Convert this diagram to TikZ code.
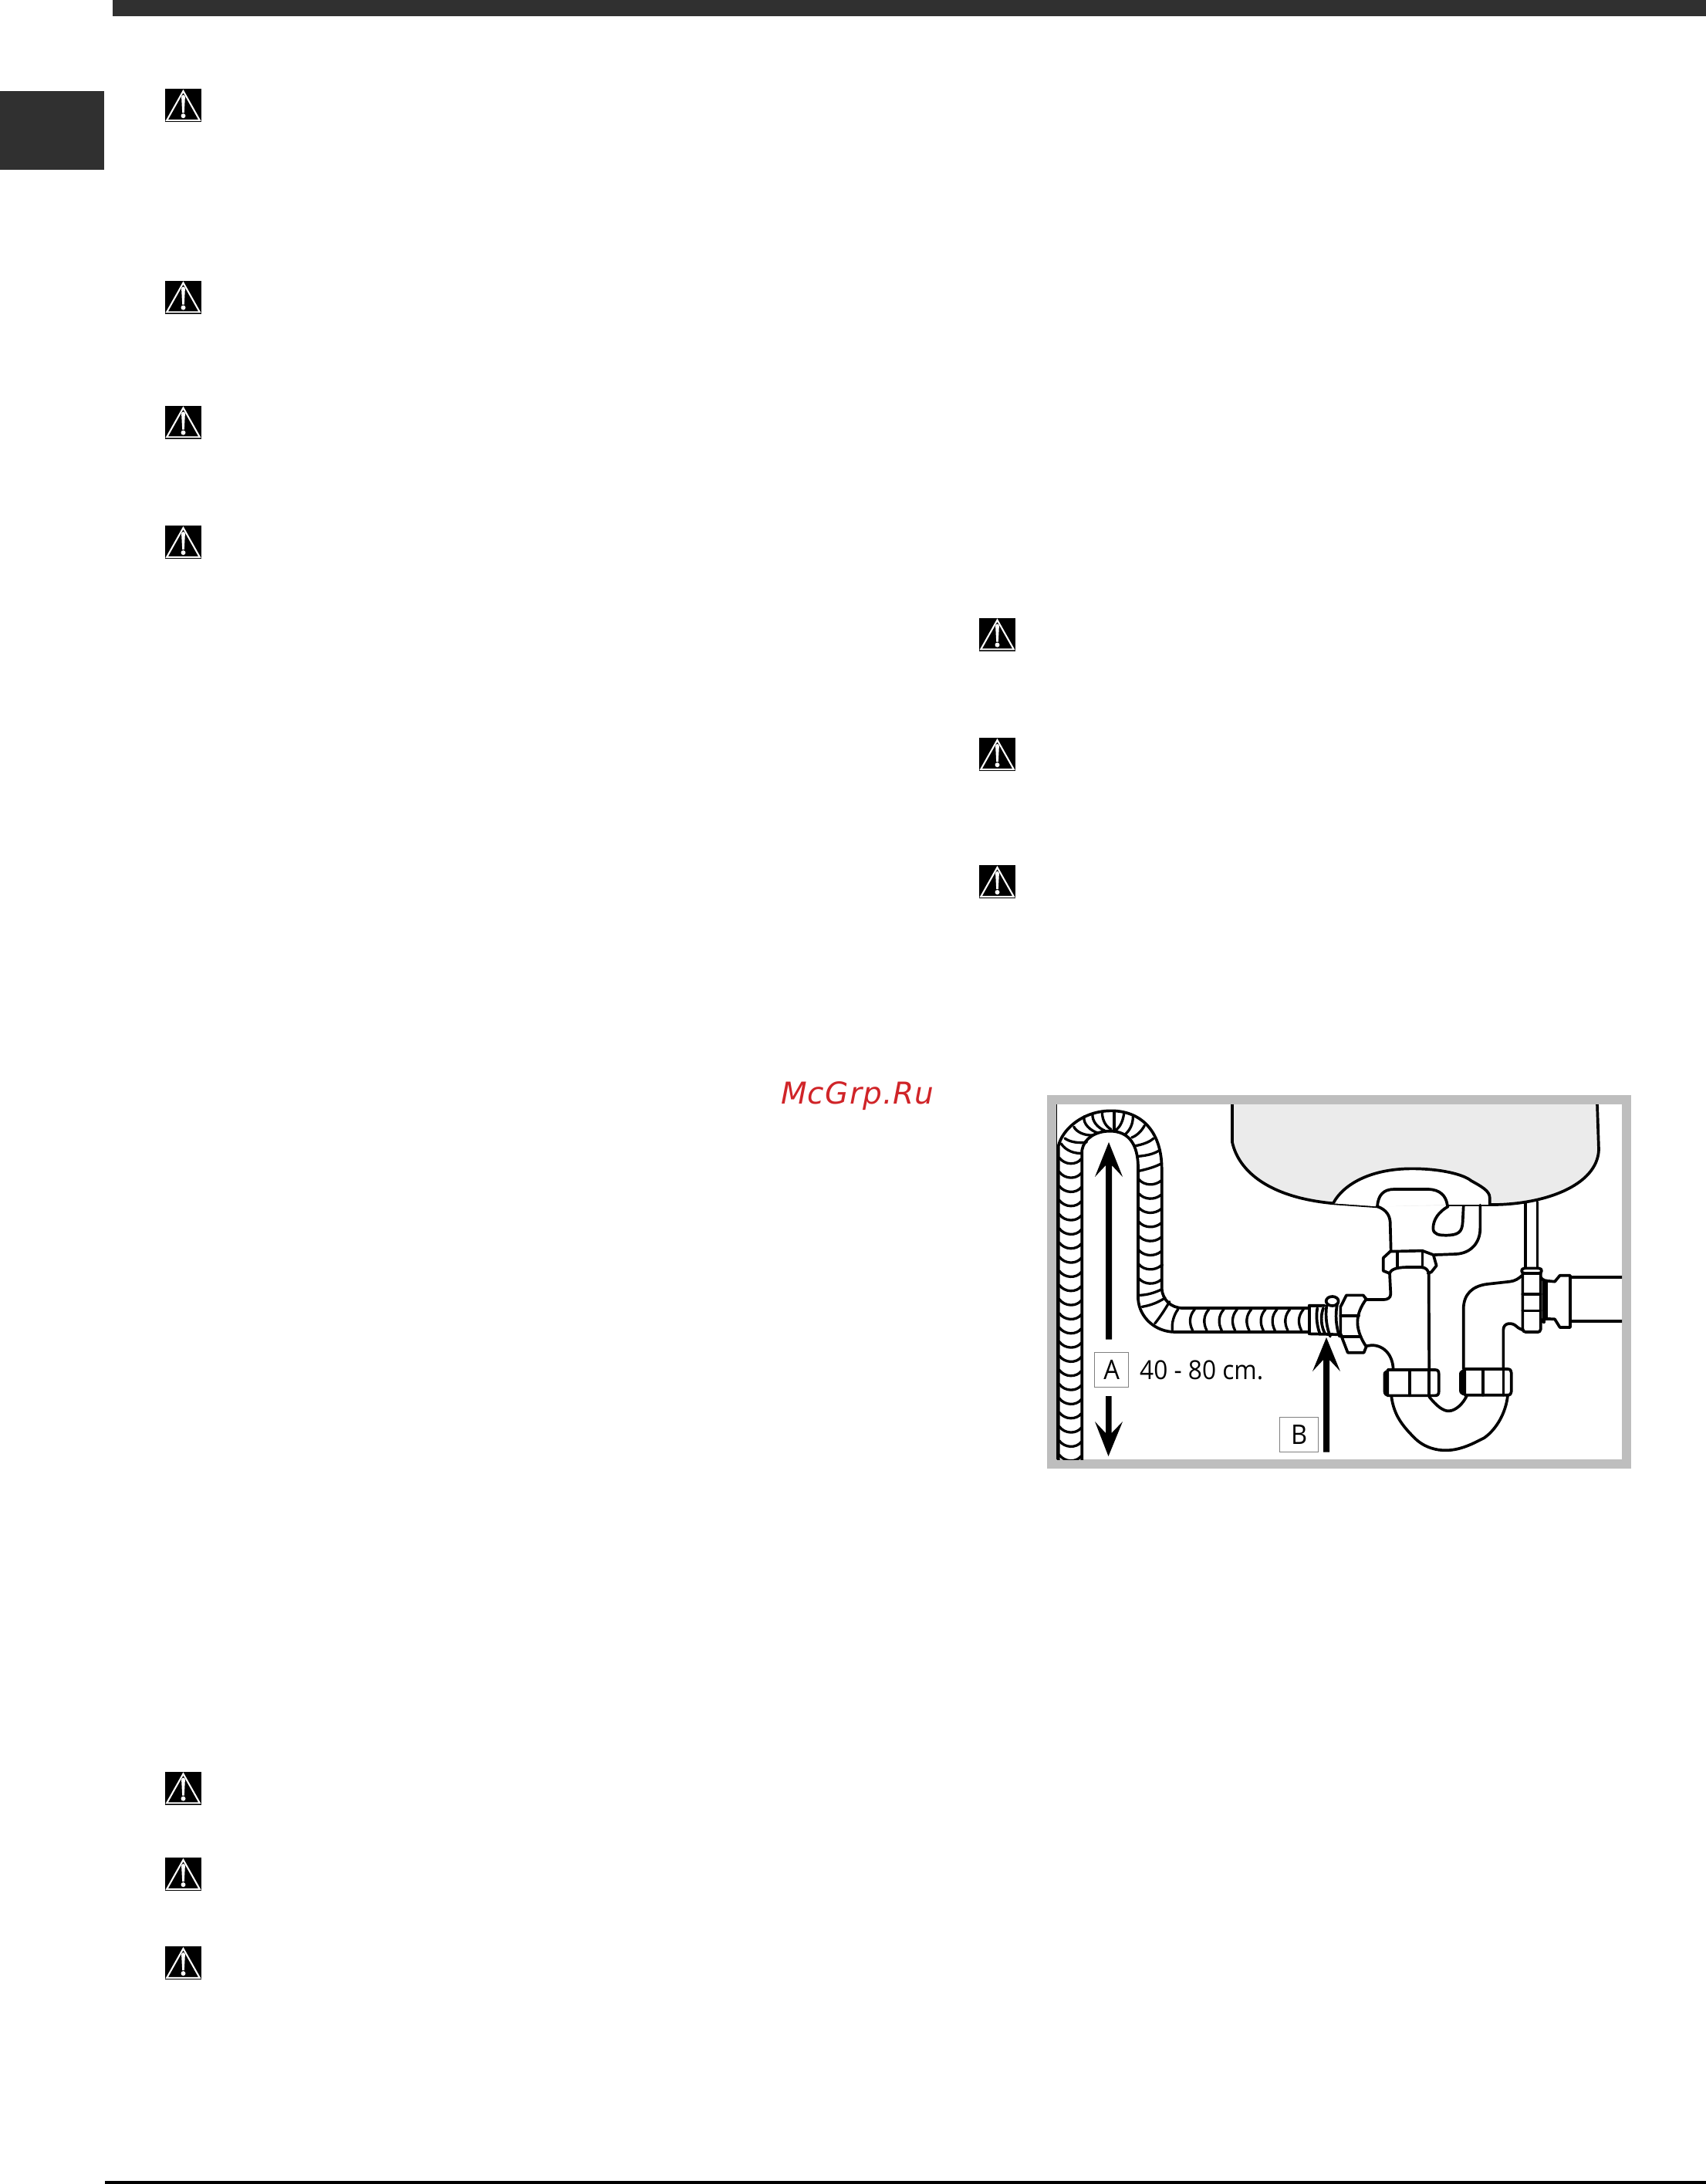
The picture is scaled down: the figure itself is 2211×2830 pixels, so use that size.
\documentclass[tikz,border=0pt]{standalone}
\usepackage{fontspec}
\setmainfont{Open Sans}
\newfontfamily\wmfont[LetterSpace=3]{DejaVu Sans}
\newfontfamily\dimfont[FakeStretch=0.93]{Open Sans}
\definecolor{band}{HTML}{303030}
\definecolor{frameg}{HTML}{BEBEBE}
\definecolor{sinkg}{HTML}{EBEBEB}
\definecolor{labelg}{HTML}{808080}
\definecolor{wm}{HTML}{D02428}
\tikzset{
  pix/.style={shift={(#1)},x=0.33333pt,y=-0.33333pt},
  ln/.style={draw=black,line width=3.7pt,line join=round,line cap=round},
  rib/.style={draw=black,line width=3.3pt,line cap=round},
  labelbox/.style={draw=labelg,line width=1.4pt,fill=white,inner sep=0pt,anchor=north west,font=\dimfont\fontsize{35}{35}\selectfont},
  warn/.pic={
    \fill[black] (-23.5,-21.5) rectangle (23.5,21.5);
    \draw[white,line width=2.1pt,line join=miter] (0,-18.5) -- (21.3,19.3) -- (-21.3,19.3) -- cycle;
    \fill[white] (-2.4,-11) -- (2.4,-11) -- (1.3,9.5) -- (-1.3,9.5) -- cycle;
    \fill[white] (0,-11) circle (2.4);
    \fill[white] (0,13.6) circle (3);
  }
}
\begin{document}
\begin{tikzpicture}[x=1pt,y=-1pt]
\useasboundingbox (0,0) rectangle (2211,2830);
\fill[white] (0,0) rectangle (2211,2830);
\fill[band] (146,0) rectangle (2211,21);
\fill[band] (0,118) rectangle (135,220);
\fill[black] (136,2826) rectangle (2211,2830);
% warning icons
\foreach \cx/\cy in {237.5/136.5,237.5/385,237.5/547,237.5/702.5,237.5/2317,237.5/2428.5,237.5/2543.5,1292.5/822,1292.5/977.5,1292.5/1142.5}
  \pic at (\cx,\cy) {warn};
% watermark
\node[anchor=base west,inner sep=0pt,text=wm,font=\wmfont\itshape\fontsize{39}{39}\selectfont] (mark) at (1012,1430) {McGrp.Ru};
% frame
\fill[frameg] (1357,1419) rectangle (2114,1903);
\fill[white] (1369,1431) rectangle (2102,1891);
\begin{scope}
\clip (1369,1431) rectangle (2102,1891);
\draw[black,line width=1pt] (1369.5,1431) -- (1369.5,1891);
% sink
\begin{scope}[pix={1700,1480}]
\path[fill=sinkg] (-309,-150) -- (-309,0) .. controls (-285,110) and (-170,215) .. (85,238) -- (255,250) -- (692,243)
 .. controls (900,245) and (1110,170) .. (1116,30) -- (1110,-150) -- cycle;
\draw[ln] (-309,-150) -- (-309,0) .. controls (-285,110) and (-170,215) .. (85,238) -- (255,250);
\draw[ln] (530,243) -- (692,243) .. controls (900,245) and (1110,170) .. (1116,30) -- (1110,-150);
% strainer arch
\path[fill=white] (85,238) .. controls (120,170) and (220,103) .. (390,103) .. controls (500,103) and (590,125) .. (620,150) .. controls (660,172) and (692,190) .. (692,215) -- (692,243) -- (530,243) -- (255,250) -- cycle;
\draw[ln] (85,235) .. controls (120,170) and (220,103) .. (390,103) .. controls (500,103) and (590,125) .. (620,150) .. controls (660,172) and (692,190) .. (692,215) -- (692,243);
% upper fixture
\draw[ln] (255,250) .. controls (258,205) and (280,183) .. (320,183) -- (450,183) .. controls (500,183) and (522,210) .. (527,243) -- (530,250) .. controls (495,270) and (472,300) .. (472,335) .. controls (472,360) and (500,362) .. (520,362) .. controls (570,362) and (585,350) .. (587,310) -- (590,250);
\draw[ln] (255,250) .. controls (290,262) and (303,285) .. (305,310) -- (308,422);
\draw[ln] (655,245) -- (655,335) .. controls (655,390) and (620,432) .. (560,435) -- (478,438);
% nut
\draw[ln] (278,450) -- (305,425) -- (430,422) -- (473,438) -- (485,480) -- (465,505) -- (452,510);
\draw[ln] (278,450) -- (278,500) -- (303,510) .. controls (310,490) and (340,487) .. (370,486) -- (425,486) .. controls (445,487) and (452,498) .. (455,510);
\draw[ln] (333,425) -- (333,487) (430,425) -- (430,487);
% T body
\draw[ln] (303,510) -- (307,590) .. controls (307,605) and (295,612) .. (280,612) -- (212,612);
\draw[ln] (455,510) -- (457,990);
\draw[ln] (215,792) .. controls (260,780) and (315,810) .. (317,885);
% hex nut
\draw[ln,fill=white] (135,595) -- (200,595) -- (212,610) .. controls (190,640) and (178,670) .. (178,700) .. controls (178,735) and (195,770) .. (212,795) -- (203,818) -- (140,818) -- (112,745) -- (112,640) -- cycle;
\draw[ln] (112,675) -- (183,675) (120,755) -- (190,755);
% clamp
\draw[ln] (-10,635) -- (50,635) (-10,745) -- (115,748);
\draw[ln] (22,645) .. controls (15,680) and (22,720) .. (32,745);
\draw[ln] (45,645) .. controls (32,680) and (38,720) .. (52,745);
\draw[ln] (58,635) .. controls (52,680) and (58,720) .. (72,755);
\draw[ln] (100,625) .. controls (90,670) and (95,720) .. (108,755);
\draw[ln,fill=white] (80,618) ellipse (24 and 18);
% slip nuts
\fill[black] (278,900) .. controls (278,890) and (290,885) .. (302,885) -- (302,990) .. controls (285,990) and (278,980) .. (278,970) -- cycle;
\draw[ln,fill=white] (295,885) -- (480,885) .. controls (490,885) and (494,890) .. (494,900) -- (494,970) .. controls (494,980) and (490,985) .. (480,985) -- (295,985) -- cycle;
\draw[ln] (380,885) -- (380,985) (455,885) -- (455,985);
\fill[black] (573,900) .. controls (573,890) and (585,882) .. (598,882) -- (598,985) .. controls (580,985) and (573,975) .. (573,965) -- cycle;
\draw[ln,fill=white] (595,882) -- (762,882) .. controls (772,882) and (776,888) .. (776,896) -- (776,970) .. controls (776,978) and (772,983) .. (762,983) -- (595,983) -- cycle;
\draw[ln] (665,882) -- (665,983) (745,882) -- (745,983);
% trap
\draw[ln] (310,990) .. controls (320,1060) and (350,1100) .. (400,1150) .. controls (440,1190) and (490,1198) .. (520,1198) .. controls (580,1198) and (630,1170) .. (670,1150) .. controls (720,1115) and (755,1050) .. (762,985);
\draw[ln] (457,990) .. controls (485,1025) and (510,1045) .. (532,1045) .. controls (560,1045) and (590,1015) .. (603,985);
% riser
\draw[ln] (590,882) -- (590,650) .. controls (590,590) and (625,560) .. (680,552) -- (770,542) .. controls (790,540) and (805,530) .. (818,518);
\draw[ln] (745,882) -- (745,730) .. controls (745,700) and (780,700) .. (795,715) .. controls (805,725) and (815,727) .. (820,730);
% tail joint
\draw[ln,fill=white] (820,510) -- (890,510) -- (890,728) .. controls (888,735) and (885,738) .. (880,738) -- (832,738) .. controls (825,738) and (820,733) .. (820,725) -- cycle;
\draw[ln] (820,590) -- (890,590) (820,655) -- (890,655);
\draw[ln,fill=white] (828,490) -- (882,490) .. controls (898,490) and (898,510) .. (882,510) -- (828,510) .. controls (812,510) and (812,490) .. (828,490) -- cycle;
\draw[ln] (830,235) -- (830,490) (877,232) -- (877,490);
% right pipe
\draw[ln] (902,535) -- (902,700) (912,538) -- (912,688);
\draw[ln] (890,525) -- (902,538) -- (945,542) -- (965,518) -- (1005,518) -- (1005,720) -- (965,720) -- (945,688) -- (902,686) -- (890,700);
\draw[ln] (1005,525) -- (1230,525) (1005,695) -- (1230,695);
\end{scope}
% hose, arch and left arm
\begin{scope}[pix={1340,1400}]
\draw[ln] (95,1500) -- (95,255) .. controls (110,190) and (190,118) .. (300,118) .. controls (410,118) and (495,190) .. (497,340) -- (497,720);
\draw[ln] (187,1500) -- (187,270) .. controls (195,225) and (240,197) .. (295,197) .. controls (370,197) and (405,250) .. (405,340) -- (405,720);
\foreach \ry in {0,...,21} {
  \pgfmathsetmacro{\ya}{300+\ry*55}
  \draw[rib] (98,\ya) .. controls (120,\ya+30) and (165,\ya+30) .. (184,\ya+5);
}
\foreach \ry in {0,...,7} {
  \pgfmathsetmacro{\ya}{385+\ry*55}
  \draw[rib] (408,\ya) .. controls (430,\ya+25) and (470,\ya+25) .. (494,\ya+5);
}
\draw[rib] (105,245) .. controls (125,275) and (160,285) .. (187,283);
\draw[rib] (120,225) .. controls (140,240) and (175,245) .. (205,240);
\draw[rib] (155,180) .. controls (165,200) and (195,215) .. (230,213);
\draw[rib] (195,140) .. controls (190,170) and (220,195) .. (250,205);
\draw[rib] (228,130) .. controls (225,160) and (250,185) .. (275,195);
\draw[rib] (265,122) .. controls (265,155) and (280,180) .. (300,190);
\draw[rib] (312,120) -- (312,192);
\draw[rib] (350,130) .. controls (345,160) and (335,180) .. (320,192);
\draw[rib] (385,140) .. controls (385,175) and (370,195) .. (355,210);
\draw[rib] (430,175) .. controls (420,195) and (400,215) .. (380,222);
\draw[rib] (465,225) .. controls (450,240) and (420,250) .. (390,255);
\draw[rib] (490,270) .. controls (470,285) and (440,292) .. (405,295);
\draw[rib] (497,322) .. controls (475,335) and (440,345) .. (408,352);
\end{scope}
% hose, bend and horizontal part
\begin{scope}[pix={1340,1640}]
\draw[ln] (497,-5) -- (497,90) .. controls (500,130) and (530,165) .. (580,165) -- (1070,165);
\draw[ln] (405,-5) -- (405,130) .. controls (410,200) and (470,258) .. (550,258) -- (1070,258);
\draw[rib] (405,115) .. controls (440,115) and (470,105) .. (497,92);
\draw[rib] (420,160) .. controls (450,155) and (480,145) .. (510,125);
\draw[rib] (470,225) .. controls (490,200) and (510,170) .. (527,140);
\draw[rib] (538,250) .. controls (535,220) and (545,190) .. (560,170);
\foreach \rx in {625,680,738,790,845,900,945,995,1048}
  \draw[rib] (\rx,170) .. controls (\rx-22,195) and (\rx-22,225) .. (\rx-8,252);
\draw[ln] (1070,155) -- (1115,155) (1070,155) -- (1070,265) -- (1115,265);
\end{scope}
% arrows
\fill[black] (1433,1735.5) -- (1433,1510) -- (1419,1525) -- (1437,1480) -- (1455,1525) -- (1441,1510) -- (1441,1735.5) -- cycle;
\fill[black] (1433,1809) -- (1433,1857) -- (1419,1842) -- (1436.5,1887) -- (1455,1842) -- (1440.5,1857) -- (1440.5,1809) -- cycle;
\fill[black] (1715,1881.5) -- (1715,1762) -- (1701,1777) -- (1719,1733) -- (1737,1777) -- (1723,1762) -- (1723,1881.5) -- cycle;
% labels
\node[labelbox,minimum width=44pt,minimum height=45pt] (boxA) at (1418,1752) {A};
\node[labelbox,minimum width=50pt,minimum height=45pt] (boxB) at (1658,1836) {B};
\node[anchor=base west,inner sep=0pt,font=\dimfont\fontsize{34}{34}\selectfont] (dim) at (1477,1787) {40 - 80 cm.};
\end{scope}
\end{tikzpicture}
\end{document}
